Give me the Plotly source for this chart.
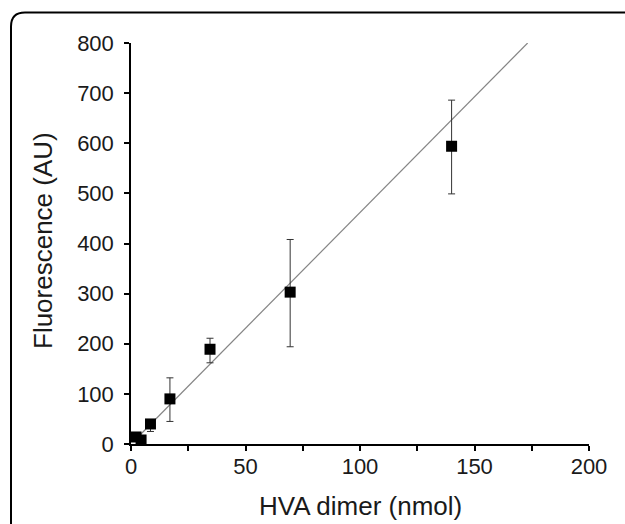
import plotly.graph_objects as go

# Data
hva_nmol = [2.2, 4.4, 8.5, 17, 34.5, 69.5, 140]
fluorescence = [14, 8, 40, 90, 189, 303, 594]
err_plus = [3, 3, 8, 42, 22, 105, 92]
err_minus = [3, 3, 15, 45, 27, 109, 95]

fit_x = [2.2, 173.2]
fit_y = [10, 800]

x_ticks = [0, 50, 100, 150, 200]
y_ticks = [0, 100, 200, 300, 400, 500, 600, 700, 800]

x_title = "HVA dimer (nmol)"
y_title = "Fluorescence (AU)"

W, H = 625, 524
PW, PH = 458, 401
ML = 131
MT = 43
MR = W - ML - PW
MB = H - MT - PH


def px(x):  # pixel x -> paper
    return (x - ML) / PW


def py(y):  # pixel y -> paper
    return (MT + PH - y) / PH


fig = go.Figure()

fig.add_trace(go.Scatter(
    x=fit_x, y=fit_y, mode="lines",
    line=dict(color="#858585", width=1.2),
    showlegend=False, hoverinfo="skip",
))

fig.add_trace(go.Scatter(
    x=hva_nmol, y=fluorescence, mode="markers",
    marker=dict(symbol="square", size=11, color="black"),
    error_y=dict(type="data", symmetric=False, array=err_plus, arrayminus=err_minus,
                 color="#333333", thickness=1, width=3.5),
    cliponaxis=False, showlegend=False,
))

font_family = "Liberation Sans, Arial, Helvetica, sans-serif"
txt_color = "#1a1a1a"

fig.update_xaxes(
    range=[0, 200], tickvals=x_ticks, ticktext=[str(v) for v in x_ticks],
    showline=True, linecolor="black", linewidth=1.5,
    ticks="outside", ticklen=5, tickwidth=1.5, tickcolor="black",
    minor=dict(tickvals=[25, 75, 125, 175], ticks="outside", ticklen=5, tickwidth=1.5, tickcolor="black"),
    showgrid=False, zeroline=False, ticklabelstandoff=-3, automargin=False,
    tickfont=dict(family=font_family, size=22, color=txt_color),
)
fig.update_yaxes(
    range=[0, 800], tickvals=y_ticks, ticktext=[str(v) for v in y_ticks],
    showline=True, linecolor="black", linewidth=1.5,
    ticks="outside", ticklen=5, tickwidth=1.5, tickcolor="black",
    showgrid=False, zeroline=False, ticklabelstandoff=6, automargin=False,
    tickfont=dict(family=font_family, size=22, color=txt_color),
)

fig.add_annotation(text=x_title, xref="paper", yref="paper", x=px(360), y=py(506),
                   xanchor="center", yanchor="middle", showarrow=False,
                   font=dict(family=font_family, size=26, color=txt_color))
fig.add_annotation(text=y_title, xref="paper", yref="paper", x=px(43), y=py(241),
                   xanchor="center", yanchor="middle", showarrow=False, textangle=-90,
                   font=dict(family=font_family, size=26, color=txt_color))

r = 14
frame_path = (
    f"M {px(11)},{py(580)} L {px(11)},{py(12.5 + r)} "
    f"Q {px(11)},{py(12.5)} {px(11 + r)},{py(12.5)} "
    f"L {px(680)},{py(12.5)}"
)
fig.add_shape(type="path", path=frame_path, xref="paper", yref="paper",
              line=dict(color="black", width=2))

fig.update_layout(
    width=W, height=H,
    margin=dict(l=ML, r=MR, t=MT, b=MB),
    plot_bgcolor="white", paper_bgcolor="white",
)

fig.write_html(
    "out.html",
    config={"displayModeBar": False},
    post_script="document.body.style.margin='0';document.body.style.overflow='hidden';",
)
